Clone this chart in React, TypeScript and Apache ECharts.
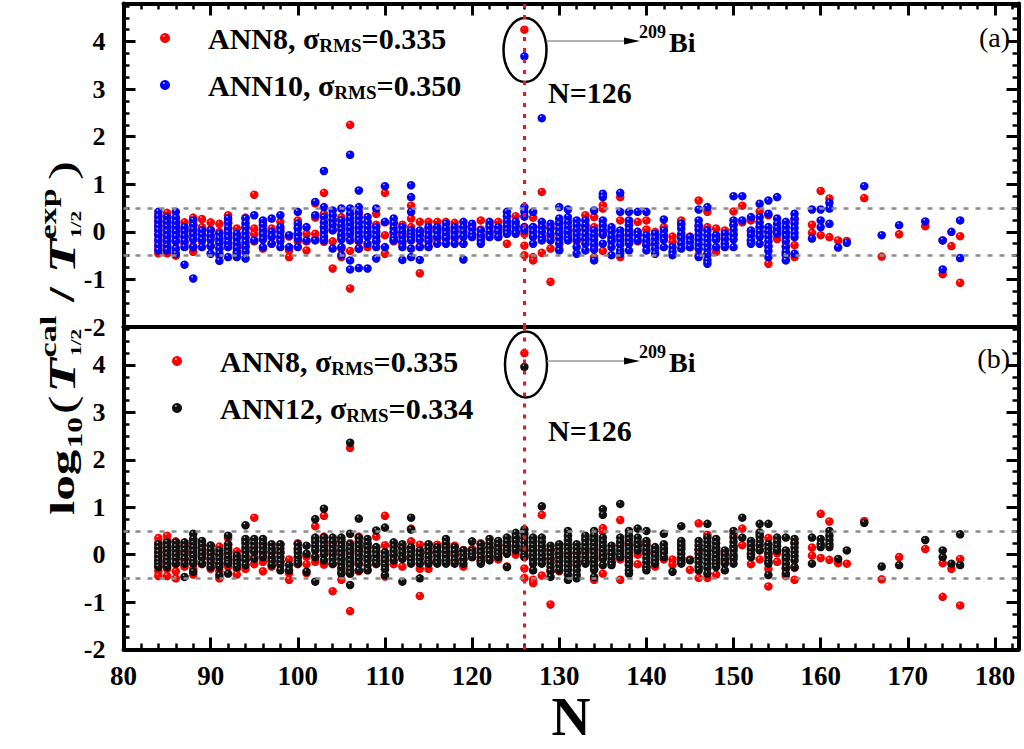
import React, { useEffect, useRef } from "react";
import * as echarts from "echarts";

const FONT = "'Liberation Serif', 'Times New Roman', Times, serif";

// x-axis range / ticks
const xMin = 80;
const xMax = 182.7;
const xStep = 10;
// y-axis range / ticks (both panels)
const yMin = -2;
const yMax = 4.8;
const yStep = 1;

// legend names and sigma_RMS
const rmsValues: Array<[string, string]> = [
  ["ANN8", "0.335"],
  ["ANN10", "0.350"],
  ["ANN12", "0.334"],
];

// ANN8 (red): [N, log10 deviations]
const ann8: Array<[number, number[]]> = [
  [84, [0.35, 0.25, 0.15, 0.05, -0.05, -0.15, -0.25, -0.35, -0.45]],
  [85, [0.4, 0.3, 0.2, 0.1, 0, -0.1, -0.2, -0.3, -0.45]],
  [86, [0.28, 0.15, 0.05, -0.05, -0.2, -0.35, -0.5]],
  [87, [0.2, 0.05, -0.1, -0.25]],
  [88, [0.3, 0.15, 0, -0.15, -0.3, -0.42]],
  [89, [0.27, 0.1, -0.05, -0.2]],
  [90, [0.2, 0.05, -0.1, -0.3]],
  [91, [0.17, 0, -0.2, -0.35, -0.5]],
  [92, [0.35, 0.2, 0.05, -0.1, -0.25]],
  [93, [0.07, -0.1, -0.3, -0.42]],
  [94, [0.3, 0.1, -0.1, -0.3]],
  [95, [0.78, 0.07, -0.05, -0.2]],
  [96, [0.2, 0, -0.15, -0.35]],
  [97, [0.07, -0.1, -0.25]],
  [98, [0.21, 0.05, -0.15]],
  [99, [-0.1, -0.39, -0.53]],
  [100, [0.24, 0.1, -0.05, -0.2]],
  [101, [-0.04, -0.2, -0.39]],
  [102, [0.6, 0.3, -0.04, -0.15]],
  [103, [0.82, 0.38, 0.1, -0.21]],
  [104, [0.24, 0.05, -0.2, -0.77]],
  [105, [0.31, 0.1, -0.1, -0.35, -0.53]],
  [106, [2.25, 0.24, 0.05, -0.15, -0.4, -1.19]],
  [107, [0.38, 0.1, -0.2, -0.35]],
  [108, [0.2, -0.05, -0.32]],
  [109, [0.38, 0.15, -0.2]],
  [110, [0.82, 0.2, -0.07, -0.46]],
  [111, [0.2, 0, -0.2]],
  [112, [0.15, -0.05, -0.25]],
  [113, [0.55, 0.28, 0.1, -0.1]],
  [114, [0.21, 0, -0.3, -0.87]],
  [115, [0.21, 0.05, -0.15, -0.3]],
  [116, [0.21, 0.05, -0.15]],
  [117, [0.21, 0.05, -0.12]],
  [118, [0.19, 0.02, -0.15]],
  [119, [0.1, -0.1, -0.25]],
  [120, [0.12, -0.05]],
  [121, [0.24, 0.05, -0.12]],
  [122, [0.15, -0.05]],
  [123, [0.21, 0.05, -0.1]],
  [124, [0.2, 0.05, -0.25]],
  [125, [0.33, 0.15, 0]],
  [126, [4.25, 0.1, -0.04, -0.29, -0.49]],
  [127, [0.3, 0.1, -0.1, -0.53, -0.6]],
  [128, [0.84, 0.1, -0.1, -0.44]],
  [129, [0.1, -0.1, -0.35, -1.05]],
  [130, [0.2, 0, -0.35]],
  [131, [0, -0.1]],
  [132, [0.03, -0.2]],
  [133, [0.35, 0.1, -0.15]],
  [134, [0.31, 0.1, -0.1, -0.3, -0.53]],
  [135, [0.56, 0.49, -0.04, -0.4]],
  [136, [0.03, -0.15]],
  [137, [0.73, 0.24, -0.1, -0.53]],
  [138, [0.21, -0.05, -0.2]],
  [139, [0.21, 0, -0.2]],
  [140, [0.24, 0.05, -0.25]],
  [141, [0, -0.25]],
  [142, [0.1, -0.1]],
  [143, [-0.1, -0.21]],
  [144, [0.24, 0.15, -0.1]],
  [145, [-0.1, -0.32]],
  [146, [0.66, 0.1, -0.49]],
  [147, [0.42, 0.1, -0.49]],
  [148, [0.07, -0.1, -0.42]],
  [149, [0.03, -0.15]],
  [150, [0.43, 0.15, -0.05]],
  [151, [0.55, 0.2]],
  [152, [0.24, 0, -0.2]],
  [153, [0.43, 0.1, -0.1]],
  [154, [0.35, 0, -0.3, -0.67]],
  [155, [0.03, -0.15]],
  [156, [-0.04, -0.3, -0.45]],
  [157, [0.25, -0.28, -0.53]],
  [159, [0.15, -0.02]],
  [160, [0.86, -0.07]],
  [161, [0.7, -0.11]],
  [162, [-0.18]],
  [163, [-0.19]],
  [165, [0.71]],
  [167, [-0.52]],
  [169, [-0.05]],
  [172, [0.12]],
  [174, [-0.18, -0.89]],
  [175, [-0.3]],
  [176, [-0.09, -1.07]],
];

// ANN10 (blue, panel a)
const ann10: Array<[number, number[]]> = [
  [84, [0.42, 0.32, 0.22, 0.12, 0.03, -0.07, -0.18, -0.29, -0.39]],
  [85, [0.31, 0.2, 0.1, 0, -0.1, -0.2, -0.3, -0.39]],
  [86, [0.42, 0.3, 0.2, 0.1, 0, -0.1, -0.2, -0.35, -0.46]],
  [87, [0.1, 0, -0.1, -0.2, -0.32, -0.69]],
  [88, [0.24, 0.14, 0.04, -0.06, -0.16, -0.32, -0.98]],
  [89, [0.03, -0.07, -0.17, -0.32]],
  [90, [0.03, -0.07, -0.17, -0.3, -0.46]],
  [91, [-0.04, -0.14, -0.25, -0.35, -0.46, -0.61]],
  [92, [0.28, 0.18, 0.08, -0.02, -0.12, -0.22, -0.32, -0.53]],
  [93, [-0.04, -0.14, -0.25, -0.35, -0.46, -0.53]],
  [94, [0.28, 0.18, 0.08, -0.02, -0.12, -0.22, -0.32, -0.42, -0.56]],
  [95, [0.35, -0.18]],
  [96, [0.24, 0.14, 0.04, -0.06, -0.16, -0.32]],
  [97, [0.28, 0, -0.1, -0.25]],
  [98, [0.35, 0.1, 0, -0.1, -0.2, -0.32]],
  [99, [-0.07, -0.32]],
  [100, [0.42, 0.17, 0.07, -0.04, -0.14, -0.32]],
  [101, [0.1, -0.18]],
  [102, [0.63, 0.35, -0.18]],
  [103, [1.28, 0.52, 0.31, 0.2, 0.1, 0, -0.1, -0.18]],
  [104, [0.45, 0.35, 0.25, 0.15, 0.03, -0.35]],
  [105, [0.49, 0.24, 0.14, 0.04, -0.06, -0.16, -0.32, -0.49]],
  [106, [1.62, 0.49, 0.38, 0.28, 0.17, 0.07, -0.04, -0.18, -0.6, -0.79]],
  [107, [0.87, 0.52, 0.42, 0.3, 0.2, 0.1, 0, -0.1, -0.18, -0.35, -0.76]],
  [108, [0.31, 0.2, 0.1, 0, -0.1, -0.25, -0.77]],
  [109, [0.49, 0.1, 0, -0.1, -0.2, -0.32, -0.56]],
  [110, [0.96, 0.21, -0.32]],
  [111, [0.28, 0.18, 0.08, -0.02, -0.12, -0.18]],
  [112, [0.1, 0, -0.1, -0.2, -0.32, -0.59]],
  [113, [0.98, 0.73, 0.42, 0.03, -0.04, -0.11, -0.18, -0.35, -0.53]],
  [114, [0.03, -0.07, -0.17, -0.32, -0.59]],
  [115, [0.1, 0, -0.1, -0.2, -0.32]],
  [116, [0.1, 0, -0.1, -0.25]],
  [117, [0.17, 0.07, -0.04, -0.14, -0.25]],
  [118, [0.1, 0, -0.1, -0.25]],
  [119, [0.21, 0.1, 0, -0.1, -0.25, -0.58]],
  [120, [0.17, 0.07, -0.04, -0.11]],
  [121, [0.03, -0.07, -0.17, -0.25]],
  [122, [0.21, 0.1, 0, -0.11]],
  [123, [0.1, 0, -0.11]],
  [124, [0.42, 0.32, 0.22, 0.12, 0.03, -0.04]],
  [125, [0.21, 0.1, 0, -0.04]],
  [126, [3.69, 0.52, 0.42, 0.32, 0.1, 0.03]],
  [127, [0.42, 0.1, 0, -0.1, -0.25]],
  [128, [2.39, 0.21, 0.1, 0, -0.11, -0.18]],
  [129, [0.17, 0.07, -0.04, -0.18]],
  [130, [0.52, 0.28, 0.17, 0.07, -0.04, -0.14, -0.25, -0.39]],
  [131, [0.47, 0.31, 0.2, 0.1, 0, -0.11, -0.18]],
  [132, [0.24, 0.14, 0.04, -0.06, -0.16, -0.32, -0.46]],
  [133, [0.24, 0.14, 0.04, -0.06, -0.16, -0.25, -0.39]],
  [134, [0.45, 0.03, -0.07, -0.17, -0.27, -0.37, -0.6]],
  [135, [0.8, 0.73, 0.24, 0.14, 0.04, -0.06, -0.25]],
  [136, [0.1, 0, -0.1, -0.2, -0.32, -0.49]],
  [137, [0.82, 0.42, 0.03, -0.07, -0.17, -0.27, -0.39, -0.46]],
  [138, [0.42, 0.24, 0.14, 0.04, -0.06, -0.16, -0.25, -0.39]],
  [139, [0.42, 0, -0.07, -0.18]],
  [140, [0.42, -0.07, -0.18, -0.28, -0.39]],
  [141, [-0.04, -0.14, -0.25, -0.35, -0.46]],
  [142, [0.26, 0.03, -0.07, -0.17, -0.32]],
  [143, [-0.32, -0.42, -0.49]],
  [144, [0.17, 0.07, -0.04, -0.14, -0.25, -0.35]],
  [145, [-0.11, -0.21, -0.32]],
  [146, [0.47, 0.24, 0.14, 0.04, -0.06, -0.16, -0.26, -0.36, -0.53]],
  [147, [0.52, 0.03, -0.07, -0.17, -0.27, -0.37, -0.47, -0.6, -0.67]],
  [148, [-0.07, -0.17, -0.32]],
  [149, [-0.04, -0.14, -0.25, -0.32]],
  [150, [0.75, 0.24, 0.14, 0.04, -0.06, -0.16, -0.32]],
  [151, [0.75, 0.24]],
  [152, [0.31, 0.03, -0.07, -0.18, -0.25]],
  [153, [0.59, 0.31, 0.2, 0.1, 0, -0.1, -0.25]],
  [154, [0.66, 0.38, 0.1, 0, -0.1, -0.2, -0.3, -0.4, -0.53]],
  [155, [0.73, 0.28, 0.17, 0.07, -0.04]],
  [156, [0.21, 0.1, 0, -0.1, -0.2, -0.32, -0.42, -0.49, -0.6]],
  [157, [0.38, 0.28, 0.18, 0.08, -0.02, -0.11, -0.46]],
  [159, [0.47, -0.14]],
  [160, [0.47, 0.24, 0.1]],
  [161, [0.61, 0.49, 0.17]],
  [162, [-0.33]],
  [163, [-0.23]],
  [165, [0.96]],
  [167, [-0.07]],
  [169, [0.14]],
  [172, [0.22]],
  [174, [-0.18, -0.79]],
  [175, [0]],
  [176, [0.24, -0.55]],
];

// ANN12 (black, panel b)
const ann12: Array<[number, number[]]> = [
  [84, [0.22, 0.14, 0.05, -0.03, -0.12, -0.19, -0.26]],
  [85, [0.26, 0.17, 0.09, 0, -0.09, -0.17, -0.26]],
  [86, [0.26, 0.17, 0.09, 0, -0.09, -0.19]],
  [87, [0.26, 0.17, 0.09, 0, -0.09, -0.19, -0.47]],
  [88, [0.44, 0.33, 0.24, 0.15, 0.06, -0.03, -0.12, -0.19, -0.36]],
  [89, [0.29, 0.2, 0.11, 0.02, -0.07, -0.19]],
  [90, [0.19, 0.1, 0.01, -0.08, -0.17, -0.26]],
  [91, [0.09, 0, -0.09, -0.18, -0.26, -0.43]],
  [92, [0.4, 0.22, 0.13, 0.04, -0.05, -0.14, -0.19, -0.4]],
  [93, [-0.02, -0.11, -0.19, -0.26]],
  [94, [0.62, 0.33, 0.24, 0.15, 0.06, -0.03, -0.12, -0.22]],
  [95, [0.33, 0.24, 0.15, 0.06, -0.09]],
  [96, [0.33, 0.24, 0.15, 0.06, -0.05]],
  [97, [0.22, 0.13, 0.04, -0.05, -0.14, -0.22]],
  [98, [0.22, 0.13, 0.04, -0.05, -0.14, -0.22, -0.33]],
  [99, [-0.22, -0.33]],
  [100, [0.22, 0.13, 0.04, -0.05, -0.14, -0.19]],
  [101, [0.19, 0.02, -0.36]],
  [102, [0.75, 0.36, 0.27, 0.18, 0.09, -0.05, -0.57]],
  [103, [0.97, 0.36, 0.27, 0.18, 0.09, 0, -0.12]],
  [104, [0.36, 0.27, 0.18, 0.09, 0, -0.09, -0.19]],
  [105, [0.36, 0.27, 0.18, 0.09, 0, -0.09, -0.19, -0.28, -0.4]],
  [106, [2.36, 0.44, 0.22, 0.13, 0.04, -0.05, -0.14, -0.23, -0.32, -0.4, -0.64]],
  [107, [0.76, 0.36, 0.27, 0.18, 0.09, 0, -0.09, -0.19, -0.33]],
  [108, [0.33, 0.24, 0.15, 0.06, -0.03, -0.12, -0.22, -0.33]],
  [109, [0.51, 0.16, 0.07, -0.02, -0.12, -0.19]],
  [110, [0.57, 0.05, -0.04, -0.13, -0.22, -0.31, -0.43]],
  [111, [0.26, 0.17, 0.08, -0.01, -0.12]],
  [112, [0.22, 0.13, 0.04, -0.05, -0.09, -0.57]],
  [113, [0.78, 0.53, 0.16, 0.07, -0.02, -0.11, -0.19]],
  [114, [0.09, 0, -0.09, -0.19, -0.5]],
  [115, [0.22, 0.13, 0.04, -0.05, -0.14, -0.19]],
  [116, [0.16, 0.07, -0.02, -0.11, -0.19]],
  [117, [0.33, 0.24, 0.15, 0.06, -0.03, -0.12, -0.19]],
  [118, [0.16, 0.07, -0.02, -0.11, -0.19]],
  [119, [0.09, 0, -0.09, -0.19]],
  [120, [0.28, 0.09, 0.02, -0.05]],
  [121, [0.22, 0.13, 0.04, -0.05, -0.14, -0.19]],
  [122, [0.33, 0.24, 0.15, 0.06, -0.03, -0.12]],
  [123, [0.29, 0.2, 0.11, 0.02, -0.05]],
  [124, [0.36, 0.27, 0.18, 0.09, 0.02, -0.26]],
  [125, [0.46, 0.37, 0.28, 0.19, 0.09]],
  [126, [3.96, 0.53, 0.44, 0.35, 0.26, 0.17, 0.09, 0, -0.05]],
  [127, [0.36, 0.27, 0.18, 0.09, 0, -0.09, -0.19, -0.33]],
  [128, [1.02, 0.36, 0.27, 0.18, 0.09, 0, -0.09, -0.19]],
  [129, [0.19, 0.1, 0.01, -0.08, -0.17, -0.26, -0.35, -0.47]],
  [130, [0.22, 0.13, 0.04, -0.05, -0.14, -0.23, -0.33]],
  [131, [0.5, 0.4, 0.31, 0.22, 0.13, 0.04, -0.05, -0.14, -0.23, -0.32, -0.42, -0.53]],
  [132, [0.22, 0.13, 0.04, -0.05, -0.14, -0.23, -0.33, -0.43, -0.5]],
  [133, [0.4, 0.31, 0.22, 0.13, 0.04, -0.05, -0.14, -0.19]],
  [134, [0.5, 0.4, 0.31, 0.22, 0.13, 0.04, -0.05, -0.14, -0.23, -0.32, -0.47]],
  [135, [0.96, 0.84, 0.36, 0.27, 0.18, 0.09, 0, -0.09, -0.22]],
  [136, [0.19, 0.1, 0.01, -0.08, -0.17, -0.22]],
  [137, [1.07, 0.36, 0.27, 0.18, 0.09, 0, -0.05]],
  [138, [0.5, 0.4, 0.31, 0.22, 0.13, 0.04, -0.05, -0.14, -0.23, -0.33, -0.4]],
  [139, [0.55, 0.36, 0.27, 0.18, 0.09]],
  [140, [0.5, 0.29, 0.2, 0.11, 0.02, -0.07, -0.16, -0.26, -0.33]],
  [141, [0.16, 0.07, -0.02, -0.11, -0.19]],
  [142, [0.44, 0.22, 0.13, 0.04, -0.05]],
  [143, [-0.36]],
  [144, [0.6, 0.29, 0.2, 0.11, 0.02, -0.07, -0.16, -0.19]],
  [145, [-0.12]],
  [146, [0.29, 0.2, 0.11, 0.02, -0.07, -0.16, -0.26, -0.33]],
  [147, [0.65, 0.36, 0.27, 0.18, 0.09, 0, -0.09, -0.19, -0.28, -0.4]],
  [148, [0.33, 0.24, 0.15, 0.06, -0.03, -0.12, -0.19, -0.26]],
  [149, [0.09, 0, -0.09, -0.19, -0.33]],
  [150, [0.5, 0.36, 0.27, 0.18, 0.09, 0, -0.09, -0.19]],
  [151, [0.78, 0.36]],
  [152, [0.29, 0.2, 0.11, 0.02, -0.05]],
  [153, [0.65, 0.47, 0.38, 0.29, 0.2, 0.09]],
  [154, [0.65, 0.22, 0.13, 0.04, -0.05, -0.14, -0.19, -0.43]],
  [155, [0.36, 0.27, 0.18, 0.09]],
  [156, [0.36, 0.09, 0, -0.09, -0.19, -0.28, -0.4]],
  [157, [0.33, 0.24, 0.15, 0.06, -0.03, -0.12, -0.26]],
  [159, [0.36, -0.19]],
  [160, [0.33, 0.22, 0.16]],
  [161, [0.5, 0.4, 0.31, 0.22, 0.16]],
  [162, [-0.09]],
  [163, [0.09]],
  [165, [0.67]],
  [167, [-0.25]],
  [169, [-0.22]],
  [172, [0.31]],
  [174, [0.09, -0.05]],
  [175, [-0.19]],
  [176, [0.43, -0.22]],
];

// reference lines
const bandLines = [0.5, -0.5];
const magicN = 126;

const flatten = (cols: Array<[number, number[]]>) =>
  cols.flatMap(([n, vs]) => vs.map((v) => [n, v]));

const sphere = (hi: string, c: string, dark: string) => ({
  type: "radial",
  x: 0.38,
  y: 0.3,
  r: 0.72,
  colorStops: [
    { offset: 0, color: hi },
    { offset: 0.2, color: c },
    { offset: 0.75, color: c },
    { offset: 1, color: dark },
  ],
});

const RED = sphere("#ffffff", "#ff0000", "#d00000");
const BLUE = sphere("#ffffff", "#0000ff", "#0000b0");
const BLACK = sphere("#d8d8d8", "#111111", "#000000");

const rmsOf = (name: string) => {
  const f = rmsValues.find((r) => r[0] === name);
  return f ? f[1] : "";
};

const isInt = (v: number, step: number) =>
  Math.abs(v / step - Math.round(v / step)) < 1e-6;

function xAxisDef(gridIndex: number, position: string, kind: "ticks" | "plain" | "labels") {
  const withTicks = kind !== "plain";
  return {
    gridIndex,
    type: "value",
    position,
    min: xMin,
    max: xMax,
    interval: xStep,
    axisLine: { show: true, onZero: false, lineStyle: { color: "#000", width: 4 } },
    axisTick: { show: withTicks, inside: true, length: 12, lineStyle: { color: "#000", width: 3 } },
    minorTick: { show: withTicks, splitNumber: 5, length: 6, lineStyle: { color: "#000", width: 2.5 } },
    splitLine: { show: false },
    minorSplitLine: { show: false },
    axisLabel: {
      show: kind === "labels",
      margin: 13,
      color: "#000",
      fontFamily: FONT,
      fontWeight: "bold",
      fontSize: 27,
      formatter: (v: number) => (isInt(v, xStep) ? String(Math.round(v)) : ""),
    },
    ...(kind === "labels"
      ? {
          name: "N",
          nameLocation: "middle",
          nameGap: 30,
          nameTextStyle: { color: "#000", fontFamily: FONT, fontWeight: "bold", fontSize: 54, lineHeight: 44 },
        }
      : {}),
  };
}

function yAxisDef(gridIndex: number, position: string, labels: boolean) {
  return {
    gridIndex,
    type: "value",
    position,
    min: yMin,
    max: yMax,
    interval: yStep,
    axisLine: { show: true, onZero: false, lineStyle: { color: "#000", width: 4 } },
    axisTick: { show: true, inside: true, length: 12, lineStyle: { color: "#000", width: 3 } },
    minorTick: { show: true, splitNumber: 4, length: 6, lineStyle: { color: "#000", width: 2.5 } },
    splitLine: { show: false },
    minorSplitLine: { show: false },
    axisLabel: {
      show: labels,
      margin: 18,
      color: "#000",
      fontFamily: FONT,
      fontWeight: "bold",
      fontSize: 26,
      formatter: (v: number) => (isInt(v, yStep) ? String(Math.round(v)) : ""),
    },
  };
}

const refLines = {
  silent: true,
  symbol: ["none", "none"],
  label: { show: false },
  emphasis: { disabled: true },
  data: [
    ...bandLines.map((b) => ({ yAxis: b, lineStyle: { color: "#8c8c8c", type: [5, 7], width: 2.5 } })),
    { xAxis: magicN, lineStyle: { color: "#ff1010", type: [4, 7], width: 3 } },
  ],
};

function scatter(name: string, data: any[], color: any, gi: number, withLines: boolean) {
  return {
    type: "scatter",
    name,
    xAxisIndex: gi * 2,
    yAxisIndex: gi * 2,
    data,
    symbol: "circle",
    symbolSize: 8.5,
    itemStyle: { color, opacity: 1 },
    emphasis: { disabled: true },
    ...(withLines ? { markLine: refLines } : {}),
  };
}

const legendRich = {
  f: { fontFamily: FONT, fontWeight: "bold", fontSize: 30, lineHeight: 34, color: "#000", padding: [0, 0, 0, 33] },
  s: { fontFamily: FONT, fontWeight: "bold", fontSize: 19, lineHeight: 12, color: "#000", verticalAlign: "bottom" },
  b: { fontFamily: FONT, fontWeight: "bold", fontSize: 30, lineHeight: 34, color: "#000" },
};

function legendDef(names: string[], left: number, top: number) {
  return {
    data: names,
    orient: "vertical",
    left,
    top,
    icon: "circle",
    itemWidth: 10,
    itemHeight: 10,
    itemGap: 15,
    selectedMode: false,
    formatter: (name: string) => `{f|${name}, σ}{s|RMS}{b|=${rmsOf(name)}}`,
    textStyle: { color: "#000", fontFamily: FONT, fontWeight: "bold", fontSize: 30, rich: legendRich },
  };
}

const txt = (x: number, y: number, text: string, font: string, align = "left", extra: any = {}) => ({
  type: "text",
  x,
  y,
  silent: true,
  style: {
    text,
    font,
    fill: "#000",
    textAlign: align,
    align,
    textVerticalAlign: "middle",
    verticalAlign: "middle",
    ...extra,
  },
});

function annotation(cx: number, cy: number, rx: number, ry: number, arrowY: number, nY: number, tag: string, tagY: number) {
  return [
    { type: "ellipse", silent: true, shape: { cx, cy, rx, ry }, style: { fill: "none", stroke: "#000", lineWidth: 2.5 } },
    { type: "line", silent: true, shape: { x1: cx + rx, y1: arrowY, x2: 628, y2: arrowY }, style: { stroke: "#999", lineWidth: 1.3 } },
    {
      type: "polygon",
      silent: true,
      shape: { points: [[624, arrowY - 3.5], [640, arrowY], [624, arrowY + 3.5]] },
      style: { fill: "#000" },
    },
    txt(639, arrowY - 9, "209", `bold 18px ${FONT}`),
    txt(669, arrowY + 1, "Bi", `bold 28px ${FONT}`),
    txt(548, nY, "N=126", `bold 30px ${FONT}`),
    txt(1010, tagY, tag, `28px ${FONT}`, "right"),
  ];
}

const MAIN = `bold 36px ${FONT}`;
const TIT = `italic bold 40px ${FONT}`;
const PAREN = `40px ${FONT}`;
const SUP = `bold 24px ${FONT}`;
const SUB = `bold 15px ${FONT}`;

const yTitle = {
  type: "group",
  x: 62,
  y: 515,
  rotation: Math.PI / 2,
  scaleX: 1.42,
  scaleY: 0.95,
  children: [
    txt(0, 0, "log", MAIN),
    txt(47, 14, "10", `bold 22px ${FONT}`),
    txt(71, 0, "(", PAREN),
    txt(86, 0, "T", TIT),
    txt(111, -15, "cal", SUP),
    txt(112, 15, "1/2", SUB),
    txt(150, 0, "/", `bold 38px ${FONT}`),
    txt(170, 0, "T", TIT),
    txt(194, -15, "exp", SUP),
    txt(195, 15, "1/2", SUB),
    txt(236, 0, ")", PAREN),
  ],
};

export default function App() {
  const ref = useRef<HTMLDivElement>(null);
  useEffect(() => {
    if (!ref.current) return;
    const chart = echarts.init(ref.current, undefined, { renderer: "svg" });
    const d8 = flatten(ann8);
    const option: any = {
      animation: false,
      backgroundColor: "#fff",
      grid: [
        { left: 123.5, top: 3.5, width: 895, height: 323.5, outerBoundsMode: "none", containLabel: false },
        { left: 123.5, top: 327, width: 895, height: 322.5, outerBoundsMode: "none", containLabel: false },
      ],
      xAxis: [
        xAxisDef(0, "bottom", "plain"),
        xAxisDef(0, "top", "ticks"),
        xAxisDef(1, "bottom", "labels"),
        xAxisDef(1, "top", "plain"),
      ],
      yAxis: [yAxisDef(0, "left", true), yAxisDef(0, "right", false), yAxisDef(1, "left", true), yAxisDef(1, "right", false)],
      legend: [legendDef(["ANN8", "ANN10"], 155, 18), legendDef(["ANN8", "ANN12"], 167, 341)],
      series: [
        scatter("ANN8", d8, RED, 0, true),
        scatter("ANN10", flatten(ann10), BLUE, 0, false),
        scatter("ANN8", d8, RED, 1, true),
        scatter("ANN12", flatten(ann12), BLACK, 1, false),
      ],
      graphic: [
        yTitle,
        ...annotation(525, 50, 21.5, 32, 41, 92, "(a)", 37),
        ...annotation(526, 364.5, 21, 33, 361, 430, "(b)", 358),
      ],
    };
    chart.setOption(option);
    return () => chart.dispose();
  }, []);
  return (
    <div
      ref={ref}
      style={{ position: "fixed", left: 0, top: 0, width: 1024, height: 749, background: "#fff" }}
    />
  );
}
